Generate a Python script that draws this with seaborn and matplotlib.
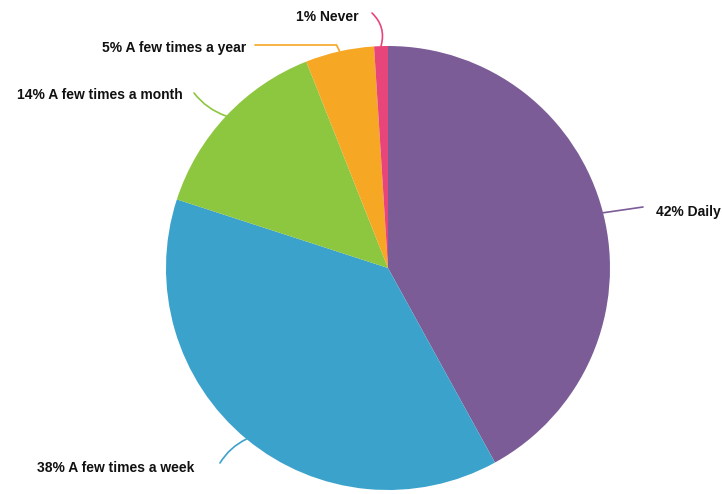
import numpy as np
import matplotlib
matplotlib.use('Agg')
from matplotlib import pyplot as plt
import seaborn as sns

labels = ['Daily', 'A few times a week', 'A few times a month', 'A few times a year', 'Never']
values = [42, 38, 14, 5, 1]
colors = ['#7c5c97', '#3ba2cb', '#8dc63f', '#f6a724', '#e8457b']

sns.set_theme(style='white')
plt.rcParams['font.family'] = ['Liberation Sans', 'DejaVu Sans']

W, H = 722, 494
fig = plt.figure(figsize=(7.22, 4.94), dpi=100)
ax = fig.add_axes([0, 0, 1, 1])

cx, cy, r = 388, H - 268, 222
wedges, _ = ax.pie(values, colors=colors, startangle=90, counterclock=False,
                   center=(cx, cy), radius=r, frame=True,
                   wedgeprops=dict(linewidth=0))
ax.set_xlim(0, W)
ax.set_ylim(0, H)
ax.set_aspect('equal')
ax.axis('off')

# label layout in pixel coords (y down): line end, text anchor, alignment, curvature
layout = [
    ((643, 207), (656, 212), 'left', 0.0),
    ((220, 463), (194, 468), 'right', -0.15),
    ((194, 93), (183, 95), 'right', 0.15),
    ((255, 45), (246, 48), 'right', 0.0),
    ((372, 13), (359, 17), 'right', -0.3),
]

for w, lab, val, col, (end, txt, ha, rad) in zip(wedges, labels, values, colors, layout):
    mid = np.deg2rad((w.theta1 + w.theta2) / 2)
    ex, ey = cx + r * np.cos(mid), cy + r * np.sin(mid)
    lx, ly = end[0], H - end[1]
    if lab == 'A few times a year':
        ax.plot([lx, ex - 3, ex], [ly, ly, ey], color=col, lw=1.2, solid_capstyle='round')
    else:
        ax.annotate('', xy=(ex, ey), xytext=(lx, ly),
                    arrowprops=dict(arrowstyle='-', color=col, lw=1.2,
                                    shrinkA=0, shrinkB=0,
                                    connectionstyle=f'arc3,rad={rad}'))
    ax.text(txt[0], H - txt[1], f'{val}% {lab}', ha=ha, va='center',
            fontsize=10, fontweight='bold', color='#111111')

fig.savefig('out.png', dpi=100, facecolor='white')
